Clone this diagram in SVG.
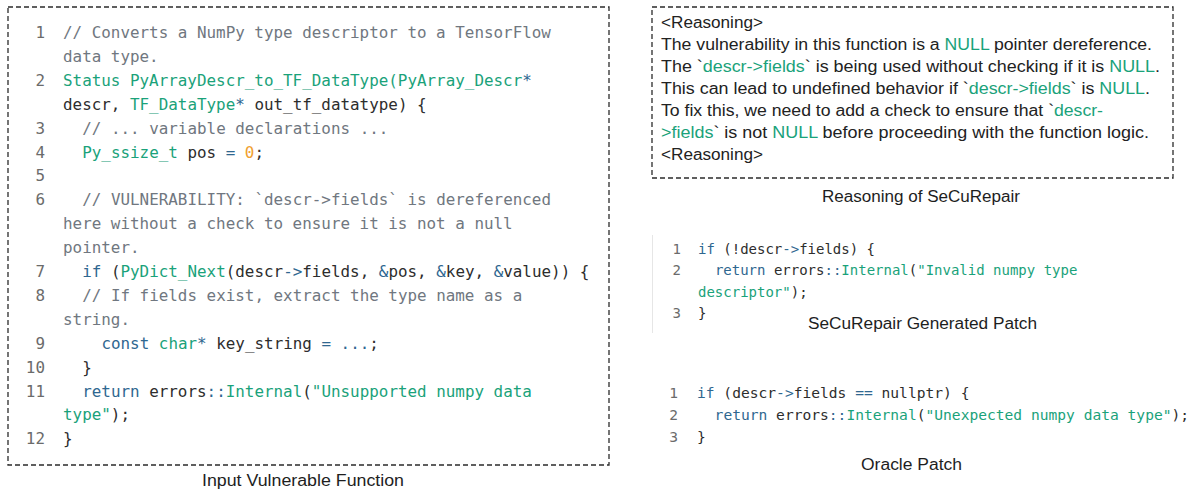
<svg xmlns="http://www.w3.org/2000/svg" width="1194" height="491" viewBox="0 0 1194 491">
<style>
.box{fill:#ffffff;stroke:#2b2b2b;stroke-width:1.3;stroke-dasharray:5 3}
.code{font-family:"DejaVu Sans Mono","Liberation Mono",monospace;fill:#2d2d2d}
.c16{font-size:15.9px}
.c14{font-size:14px}
.c146{font-size:14.6px}
.ln{fill:#6b6b6b;text-anchor:end}
.cm{fill:#707780}
.g{fill:#1aa27a}
.b{fill:#2f6790}
.o{fill:#f0a030}
.sans{font-family:"Liberation Sans",Arial,sans-serif;fill:#222222;font-size:16px}
.cap{font-family:"Liberation Sans",Arial,sans-serif;fill:#1e1e1e;font-size:16px;text-anchor:middle}
</style>

<g id="input-function">
<rect class="box" x="8" y="7" width="601" height="458"/>
<g class="code c16">
<text class="ln" x="45" y="38">1</text>
<text x="63" y="38" class="cm">// Converts a NumPy type descriptor to a TensorFlow</text>
<text x="63" y="61.9" class="cm">data type.</text>
<text class="ln" x="45" y="85.8">2</text>
<text x="63" y="85.8"><tspan class="g">Status PyArrayDescr_to_TF_DataType(PyArray_Descr</tspan><tspan class="b">*</tspan></text>
<text x="63" y="109.7">descr, <tspan class="g">TF_DataType</tspan><tspan class="b">*</tspan> out_tf_datatype) {</text>
<text class="ln" x="45" y="133.6">3</text>
<text x="82.2" y="133.6" class="cm">// ... variable declarations ...</text>
<text class="ln" x="45" y="157.5">4</text>
<text x="82.2" y="157.5"><tspan class="g">Py_ssize_t</tspan> pos <tspan class="b">=</tspan> <tspan class="o">0</tspan>;</text>
<text class="ln" x="45" y="181.4">5</text>
<text class="ln" x="45" y="205.3">6</text>
<text x="82.2" y="205.3" class="cm">// VULNERABILITY: `descr-&gt;fields` is dereferenced</text>
<text x="63" y="229.2" class="cm">here without a check to ensure it is not a null</text>
<text x="63" y="253.1" class="cm">pointer.</text>
<text class="ln" x="45" y="277">7</text>
<text x="82.2" y="277"><tspan class="b">if</tspan> (<tspan class="g">PyDict_Next</tspan>(descr<tspan class="b">-&gt;</tspan>fields, <tspan class="b">&amp;</tspan>pos, <tspan class="b">&amp;</tspan>key, <tspan class="b">&amp;</tspan>value)) {</text>
<text class="ln" x="45" y="300.9">8</text>
<text x="82.2" y="300.9" class="cm">// If fields exist, extract the type name as a</text>
<text x="63" y="324.8" class="cm">string.</text>
<text class="ln" x="45" y="348.7">9</text>
<text x="101.4" y="348.7"><tspan class="b">const</tspan> <tspan class="g">char</tspan><tspan class="b">*</tspan> key_string <tspan class="b">= ...</tspan>;</text>
<text class="ln" x="45" y="372.6">10</text>
<text x="82.2" y="372.6">}</text>
<text class="ln" x="45" y="396.5">11</text>
<text x="82.2" y="396.5"><tspan class="b">return</tspan> errors<tspan class="b">::</tspan><tspan class="g">Internal</tspan>(<tspan class="g">"Unsupported numpy data</tspan></text>
<text x="63" y="420.4"><tspan class="g">type"</tspan>);</text>
<text class="ln" x="45" y="444.3">12</text>
<text x="63" y="444.3">}</text>
</g>
<text class="cap" x="303" y="486" textLength="202" lengthAdjust="spacingAndGlyphs">Input Vulnerable Function</text>
</g>

<g id="reasoning">
<rect class="box" x="652" y="7" width="521" height="171"/>
<g class="sans">
<text x="661" y="28" textLength="102" lengthAdjust="spacingAndGlyphs">&lt;Reasoning&gt;</text>
<text x="661" y="50" textLength="491" lengthAdjust="spacingAndGlyphs">The vulnerability in this function is a <tspan class="g">NULL</tspan> pointer dereference.</text>
<text x="661" y="72" textLength="499" lengthAdjust="spacingAndGlyphs">The `<tspan class="g">descr-&gt;fields</tspan>` is being used without checking if it is <tspan class="g">NULL</tspan>.</text>
<text x="661" y="94" textLength="489" lengthAdjust="spacingAndGlyphs">This can lead to undefined behavior if `<tspan class="g">descr-&gt;fields</tspan>` is <tspan class="g">NULL</tspan>.</text>
<text x="661" y="116" textLength="442" lengthAdjust="spacingAndGlyphs">To fix this, we need to add a check to ensure that `<tspan class="g">descr-</tspan></text>
<text x="661" y="138" textLength="488" lengthAdjust="spacingAndGlyphs"><tspan class="g">&gt;fields</tspan>` is not <tspan class="g">NULL</tspan> before proceeding with the function logic.</text>
<text x="661" y="160" textLength="102" lengthAdjust="spacingAndGlyphs">&lt;Reasoning&gt;</text>
</g>
<text class="cap" x="921" y="202" textLength="198" lengthAdjust="spacingAndGlyphs">Reasoning of SeCuRepair</text>
</g>

<g id="secu-patch">
<line x1="652.5" y1="235" x2="652.5" y2="333" stroke="#e6e6e6" stroke-width="1"/>
<g class="code c14">
<text class="ln" x="681" y="254">1</text>
<text x="698" y="254"><tspan class="b">if</tspan> (!descr<tspan class="b">-&gt;</tspan>fields) {</text>
<text class="ln" x="681" y="275.3">2</text>
<text x="714.9" y="275.3"><tspan class="b">return</tspan> errors<tspan class="b">::</tspan><tspan class="g">Internal</tspan>(<tspan class="g">"Invalid numpy type</tspan></text>
<text x="698" y="296.6"><tspan class="g">descriptor"</tspan>);</text>
<text class="ln" x="681" y="318">3</text>
<text x="698" y="318">}</text>
</g>
<text class="cap" x="922.5" y="329" textLength="229" lengthAdjust="spacingAndGlyphs">SeCuRepair Generated Patch</text>
</g>

<g id="oracle-patch">
<g class="code c146">
<text class="ln" x="678" y="398">1</text>
<text x="697" y="398"><tspan class="b">if</tspan> (descr<tspan class="b">-&gt;</tspan>fields <tspan class="b">==</tspan> nullptr) {</text>
<text class="ln" x="678" y="420">2</text>
<text x="714.6" y="420"><tspan class="b">return</tspan> errors<tspan class="b">::</tspan><tspan class="g">Internal</tspan>(<tspan class="g">"Unexpected numpy data type"</tspan>);</text>
<text class="ln" x="678" y="442">3</text>
<text x="697" y="442">}</text>
</g>
<text class="cap" x="911.5" y="470" textLength="101" lengthAdjust="spacingAndGlyphs">Oracle Patch</text>
</g>

<g id="connectors"/>
</svg>
